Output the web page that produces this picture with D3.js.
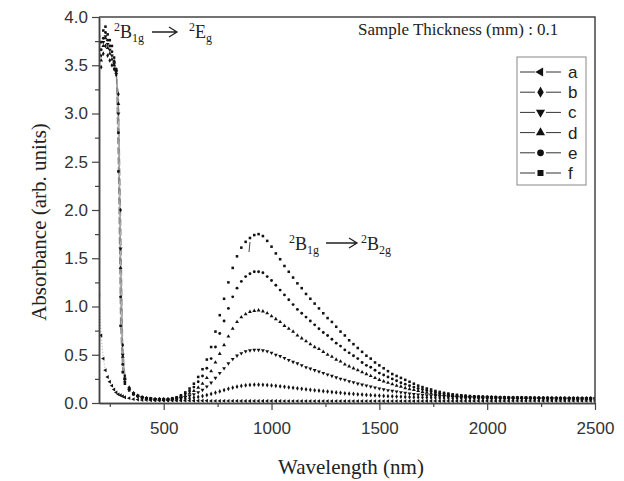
<!DOCTYPE html>
<html>
<head>
<meta charset="utf-8">
<script src="https://cdn.jsdelivr.net/npm/d3@7"></script>
<style>
  body { margin: 0; background: #fff; }
</style>
</head>
<body>
<svg id="chart" width="624" height="481"></svg>
<script>
// wavelengths (nm): 10 nm steps through the UV edge, then 20 nm steps
var uvWavelengths = [200, 210, 220, 230, 240, 250, 260, 270, 280, 290, 300, 310, 320, 340, 360, 380, 400];
var wavelengths = uvWavelengths.concat(d3.range(420, 2501, 20));

var seriesNames = ["a", "b", "c", "d", "e", "f"];

var absA = [1.12, 0.70, 0.46, 0.34, 0.27, 0.22, 0.18, 0.14, 0.11, 0.09, 0.08, 0.07, 0.06, 0.05, 0.04, 0.035, 0.03,
    0.03, 0.028, 0.027, 0.026, 0.025, 0.025, 0.025, 0.024, 0.024, 0.024,
    0.024, 0.023, 0.023, 0.023, 0.023, 0.022, 0.022, 0.022, 0.022, 0.022,
    0.022, 0.022, 0.021, 0.021, 0.021, 0.021, 0.021, 0.021, 0.021, 0.021,
    0.021, 0.021, 0.02, 0.02, 0.02, 0.02, 0.02, 0.02, 0.02, 0.02,
    0.02, 0.02, 0.02, 0.02, 0.02, 0.02, 0.02, 0.02, 0.02, 0.02,
    0.02, 0.02, 0.02, 0.02, 0.02, 0.02, 0.02, 0.02, 0.02, 0.02,
    0.02, 0.02, 0.02, 0.02, 0.02, 0.021, 0.021, 0.021, 0.021, 0.021,
    0.021, 0.021, 0.021, 0.021, 0.021,
    0.021, 0.021, 0.021, 0.021, 0.021, 0.021, 0.021, 0.021, 0.021, 0.021,
    0.022, 0.022, 0.022, 0.022, 0.022, 0.022, 0.022, 0.022, 0.022, 0.022,
    0.022, 0.022, 0.022, 0.022, 0.022, 0.022, 0.022, 0.022, 0.022, 0.022];

var absB = [3.55, 3.48, 3.62, 3.70, 3.60, 3.55, 3.50, 3.46, 3.40, 3.20, 2.00, 0.60, 0.28, 0.16, 0.10, 0.075, 0.055,
    0.045, 0.04, 0.036, 0.034, 0.032, 0.032, 0.034, 0.037, 0.04, 0.045,
    0.05, 0.056, 0.063, 0.072, 0.082, 0.094, 0.107, 0.12, 0.134, 0.147,
    0.159, 0.169, 0.177, 0.183, 0.187, 0.19, 0.19, 0.189, 0.186, 0.182,
    0.178, 0.173, 0.168, 0.163, 0.158, 0.152, 0.147, 0.142, 0.137, 0.132,
    0.127, 0.122, 0.118, 0.113, 0.109, 0.105, 0.101, 0.097, 0.094, 0.09,
    0.087, 0.084, 0.081, 0.078, 0.076, 0.073, 0.071, 0.069, 0.067, 0.065,
    0.063, 0.062, 0.06, 0.059, 0.058, 0.056, 0.055, 0.054, 0.053, 0.052,
    0.051, 0.05, 0.05, 0.049, 0.048,
    0.048, 0.047, 0.047, 0.046, 0.046, 0.045, 0.045, 0.045, 0.044, 0.044,
    0.044, 0.043, 0.043, 0.043, 0.043, 0.042, 0.042, 0.042, 0.042, 0.041,
    0.041, 0.041, 0.041, 0.04, 0.04, 0.04, 0.04, 0.04, 0.04, 0.04];

var absC = [3.66, 3.60, 3.74, 3.80, 3.72, 3.66, 3.60, 3.52, 3.44, 3.00, 1.60, 0.50, 0.25, 0.15, 0.10, 0.075, 0.06,
    0.05, 0.045, 0.04, 0.038, 0.036, 0.036, 0.04, 0.045, 0.05, 0.06,
    0.075, 0.09, 0.11, 0.135, 0.17, 0.21, 0.26, 0.31, 0.36, 0.41,
    0.455, 0.49, 0.515, 0.535, 0.545, 0.55, 0.55, 0.545, 0.535, 0.52,
    0.50, 0.485, 0.465, 0.445, 0.425, 0.41, 0.39, 0.37, 0.355, 0.34,
    0.325, 0.31, 0.295, 0.28, 0.265, 0.25, 0.24, 0.225, 0.215, 0.20,
    0.19, 0.18, 0.17, 0.16, 0.15, 0.14, 0.132, 0.125, 0.118, 0.11,
    0.104, 0.098, 0.093, 0.088, 0.083, 0.079, 0.076, 0.073, 0.07, 0.068,
    0.066, 0.064, 0.062, 0.061, 0.06,
    0.059, 0.058, 0.057, 0.056, 0.056, 0.055, 0.055, 0.054, 0.054, 0.053,
    0.053, 0.053, 0.052, 0.052, 0.052, 0.051, 0.051, 0.051, 0.05, 0.05,
    0.05, 0.05, 0.049, 0.049, 0.049, 0.049, 0.048, 0.048, 0.048, 0.048];

var absD = [3.62, 3.55, 3.70, 3.78, 3.68, 3.62, 3.56, 3.50, 3.42, 3.10, 1.40, 0.48, 0.25, 0.15, 0.10, 0.075, 0.06,
    0.05, 0.045, 0.04, 0.04, 0.038, 0.038, 0.042, 0.05, 0.06, 0.075,
    0.10, 0.125, 0.16, 0.20, 0.26, 0.33, 0.42, 0.51, 0.60, 0.69,
    0.77, 0.84, 0.89, 0.92, 0.945, 0.955, 0.96, 0.95, 0.93, 0.90,
    0.87, 0.84, 0.80, 0.77, 0.74, 0.70, 0.67, 0.64, 0.61, 0.58,
    0.56, 0.53, 0.50, 0.48, 0.45, 0.43, 0.40, 0.38, 0.36, 0.34,
    0.32, 0.30, 0.28, 0.26, 0.24, 0.225, 0.21, 0.195, 0.18, 0.17,
    0.155, 0.145, 0.135, 0.125, 0.115, 0.108, 0.10, 0.094, 0.088, 0.083,
    0.079, 0.075, 0.072, 0.069, 0.067,
    0.065, 0.063, 0.062, 0.061, 0.06, 0.059, 0.058, 0.057, 0.056, 0.055,
    0.055, 0.054, 0.054, 0.053, 0.053, 0.052, 0.052, 0.052, 0.051, 0.051,
    0.051, 0.05, 0.05, 0.05, 0.05, 0.049, 0.049, 0.049, 0.049, 0.048];

var absE = [3.72, 3.66, 3.78, 3.84, 3.76, 3.70, 3.64, 3.54, 3.44, 2.80, 1.10, 0.40, 0.22, 0.14, 0.09, 0.07, 0.055,
    0.05, 0.045, 0.04, 0.04, 0.04, 0.04, 0.045, 0.055, 0.07, 0.095,
    0.125, 0.165, 0.22, 0.28, 0.36, 0.46, 0.58, 0.72, 0.85, 0.98,
    1.10, 1.19, 1.26, 1.31, 1.34, 1.36, 1.36, 1.35, 1.31, 1.27,
    1.22, 1.17, 1.12, 1.07, 1.02, 0.97, 0.93, 0.89, 0.85, 0.81,
    0.77, 0.73, 0.70, 0.66, 0.62, 0.59, 0.55, 0.52, 0.49, 0.46,
    0.42, 0.39, 0.37, 0.34, 0.31, 0.29, 0.27, 0.25, 0.23, 0.21,
    0.195, 0.18, 0.165, 0.15, 0.14, 0.13, 0.12, 0.11, 0.10, 0.095,
    0.088, 0.082, 0.078, 0.074, 0.071,
    0.068, 0.066, 0.064, 0.062, 0.061, 0.06, 0.059, 0.058, 0.057, 0.056,
    0.055, 0.055, 0.054, 0.054, 0.053, 0.053, 0.052, 0.052, 0.052, 0.051,
    0.051, 0.051, 0.05, 0.05, 0.05, 0.05, 0.049, 0.049, 0.049, 0.049];

var absF = [3.80, 3.74, 3.86, 3.90, 3.82, 3.76, 3.70, 3.58, 3.46, 2.40, 0.80, 0.32, 0.20, 0.13, 0.09, 0.07, 0.06,
    0.05, 0.045, 0.04, 0.04, 0.04, 0.04, 0.05, 0.06, 0.08, 0.11,
    0.15, 0.20, 0.27, 0.35, 0.45, 0.58, 0.74, 0.91, 1.08, 1.25,
    1.40, 1.52, 1.61, 1.67, 1.71, 1.74, 1.75, 1.73, 1.68, 1.62,
    1.55, 1.49, 1.42, 1.36, 1.30, 1.24, 1.19, 1.13, 1.08, 1.03,
    0.98, 0.93, 0.88, 0.84, 0.79, 0.74, 0.70, 0.65, 0.61, 0.57,
    0.53, 0.49, 0.46, 0.42, 0.39, 0.36, 0.33, 0.30, 0.28, 0.26,
    0.24, 0.22, 0.20, 0.18, 0.165, 0.15, 0.14, 0.125, 0.115, 0.105,
    0.098, 0.09, 0.085, 0.08, 0.076,
    0.072, 0.07, 0.068, 0.066, 0.064, 0.062, 0.061, 0.06, 0.059, 0.058,
    0.057, 0.056, 0.056, 0.055, 0.055, 0.054, 0.054, 0.053, 0.053, 0.053,
    0.052, 0.052, 0.052, 0.051, 0.051, 0.051, 0.05, 0.05, 0.05, 0.05];

var xTicks = [500, 1000, 1500, 2000, 2500];
var xMinorTicks = [250, 750, 1250, 1750, 2250];
var yTicks = [0, 0.5, 1.0, 1.5, 2.0, 2.5, 3.0, 3.5, 4.0];
var yMinorTicks = [0.25, 0.75, 1.25, 1.75, 2.25, 2.75, 3.25, 3.75];

var allValues = [absA, absB, absC, absD, absE, absF];

var series = seriesNames.map(function (name, i) {
    return {
        name: name,
        points: wavelengths.map(function (w, j) {
            return { w: w, v: allValues[i][j] };
        })
    };
});

// marker shape for each sample, same as the legend
var shapes = {
    a: { type: d3.symbolTriangle, rotate: -90 },
    b: { type: d3.symbolDiamond, rotate: 0 },
    c: { type: d3.symbolTriangle, rotate: 180 },
    d: { type: d3.symbolTriangle, rotate: 0 },
    e: { type: d3.symbolCircle, rotate: 0 },
    f: { type: d3.symbolSquare, rotate: 0 }
};

var plotLeft = 99, plotRight = 595, plotTop = 17, plotBottom = 403;
var axisColor = "#444";

var x = d3.scaleLinear().domain([200, 2500]).range([plotLeft, plotRight]);
var y = d3.scaleLinear().domain([0, 4]).range([plotBottom, plotTop]);

var svg = d3.select("#chart");

svg.append("defs").append("clipPath").attr("id", "plotClip")
    .append("rect")
    .attr("x", plotLeft).attr("y", plotTop)
    .attr("width", plotRight - plotLeft).attr("height", plotBottom - plotTop);

var plot = svg.append("g").attr("clip-path", "url(#plotClip)");

// dashed connecting lines, only seen where the UV edge falls steeply
var uvLine = d3.line()
    .x(function (d) { return x(d.w); })
    .y(function (d) { return y(d.v); });

series.forEach(function (s, i) {
    var pts = s.name === "a"
        ? s.points.filter(function (d) { return d.w <= 230; })
        : s.points.filter(function (d) { return d.w >= 270 && d.w <= 320; });
    plot.append("path")
        .datum(pts)
        .attr("fill", "none")
        .attr("stroke", i % 2 ? "#888" : "#b5b5b5")
        .attr("stroke-width", 1.2)
        .attr("stroke-dasharray", s.name === "a" ? "1 2" : "7 3")
        .attr("d", uvLine);
});

series.forEach(function (s) {
    var shape = shapes[s.name];
    var sym = d3.symbol().type(shape.type).size(6.5);
    plot.append("g")
        .selectAll("path")
        .data(s.points)
        .enter()
        .append("path")
        .attr("d", sym)
        .attr("fill", "#111")
        .attr("transform", function (d) {
            return "translate(" + x(d.w) + "," + y(d.v) + ") rotate(" + shape.rotate + ")";
        });
});

// axes
function styleAxis(g) {
    g.select(".domain").attr("stroke", axisColor).attr("stroke-width", 1.5);
    g.selectAll(".tick line").attr("stroke", axisColor).attr("stroke-width", 1.2);
    g.selectAll(".tick text")
        .attr("fill", "#333")
        .style("font-family", "'Liberation Sans', Arial, sans-serif")
        .style("font-size", "17px");
}

svg.append("g")
    .attr("transform", "translate(0," + plotBottom + ")")
    .call(d3.axisBottom(x).tickValues(xMinorTicks).tickSize(4).tickSizeOuter(0).tickFormat(""))
    .call(styleAxis);

svg.append("g")
    .attr("transform", "translate(0," + plotBottom + ")")
    .call(d3.axisBottom(x).tickValues(xTicks).tickSize(7).tickSizeOuter(0).tickPadding(12)
        .tickFormat(d3.format("d")))
    .call(styleAxis);

svg.append("g")
    .attr("transform", "translate(" + plotLeft + ",0)")
    .call(d3.axisLeft(y).tickValues(yMinorTicks).tickSize(4).tickSizeOuter(0).tickFormat(""))
    .call(styleAxis);

svg.append("g")
    .attr("transform", "translate(" + plotLeft + ",0)")
    .call(d3.axisLeft(y).tickValues(yTicks).tickSize(7).tickSizeOuter(0).tickPadding(4)
        .tickFormat(d3.format(".1f")))
    .call(styleAxis);

// top and right frame
svg.append("path")
    .attr("d", "M" + plotLeft + "," + plotTop + "H" + plotRight + "V" + plotBottom)
    .attr("fill", "none")
    .attr("stroke", axisColor)
    .attr("stroke-width", 1.5);

var serif = "'Liberation Serif', 'Times New Roman', serif";

svg.append("text")
    .attr("x", (plotLeft + plotRight) / 2 + 4)
    .attr("y", 474)
    .attr("text-anchor", "middle")
    .style("font-family", serif)
    .style("font-size", "21px")
    .attr("fill", "#222")
    .text("Wavelength (nm)");

svg.append("text")
    .attr("transform", "translate(46," + ((plotTop + plotBottom) / 2 + 12) + ") rotate(-90)")
    .attr("text-anchor", "middle")
    .style("font-family", serif)
    .style("font-size", "21px")
    .attr("fill", "#222")
    .text("Absorbance (arb. units)");

svg.append("text")
    .attr("x", 358)
    .attr("y", 35)
    .style("font-family", serif)
    .style("font-size", "17px")
    .attr("fill", "#222")
    .text("Sample Thickness (mm) : 0.1");

// term labels like 2B1g with raised and lowered parts
function termLabel(px, py, letter, sub) {
    var t = svg.append("text")
        .attr("x", px).attr("y", py)
        .style("font-family", serif)
        .attr("fill", "#222");
    t.append("tspan").style("font-size", "12px").attr("dy", -7).text("2");
    t.append("tspan").style("font-size", "18px").attr("dy", 7).text(letter);
    t.append("tspan").style("font-size", "12px").attr("dy", 4).text(sub);
}

function arrow(x1, x2, ay) {
    svg.append("path")
        .attr("d", "M" + x1 + "," + ay + "H" + x2 +
            "M" + (x2 - 8) + "," + (ay - 5) + "L" + x2 + "," + ay + "L" + (x2 - 8) + "," + (ay + 5))
        .attr("fill", "none")
        .attr("stroke", "#222")
        .attr("stroke-width", 1.3);
}

termLabel(114, 38, "B", "1g");
arrow(152, 177, 32);
termLabel(189, 38, "E", "g");

termLabel(289, 250, "B", "1g");
arrow(326, 357, 243);
termLabel(361, 250, "B", "2g");

svg.append("path")
    .attr("d", "M250,242 L249,252")
    .attr("stroke", "#444")
    .attr("stroke-width", 1);

// legend
var legendTop = 72, legendStep = 20.2;
var legend = svg.append("g");
legend.append("rect")
    .attr("x", 517).attr("y", 57)
    .attr("width", 69).attr("height", 128)
    .attr("fill", "#fff")
    .attr("stroke", "#888")
    .attr("stroke-width", 1);

seriesNames.forEach(function (name, i) {
    var ly = legendTop + i * legendStep;
    var shape = shapes[name];
    legend.append("path")
        .attr("d", "M520," + ly + "H535M546," + ly + "H561")
        .attr("stroke", "#333")
        .attr("stroke-width", 1);
    legend.append("path")
        .attr("d", d3.symbol().type(shape.type).size(36))
        .attr("fill", "#111")
        .attr("transform", "translate(540.5," + ly + ") rotate(" + shape.rotate + ")");
    legend.append("text")
        .attr("x", 568)
        .attr("y", ly + 6)
        .style("font-family", "'Liberation Sans', Arial, sans-serif")
        .style("font-size", "17px")
        .attr("fill", "#222")
        .text(name);
});
</script>
</body>
</html>
